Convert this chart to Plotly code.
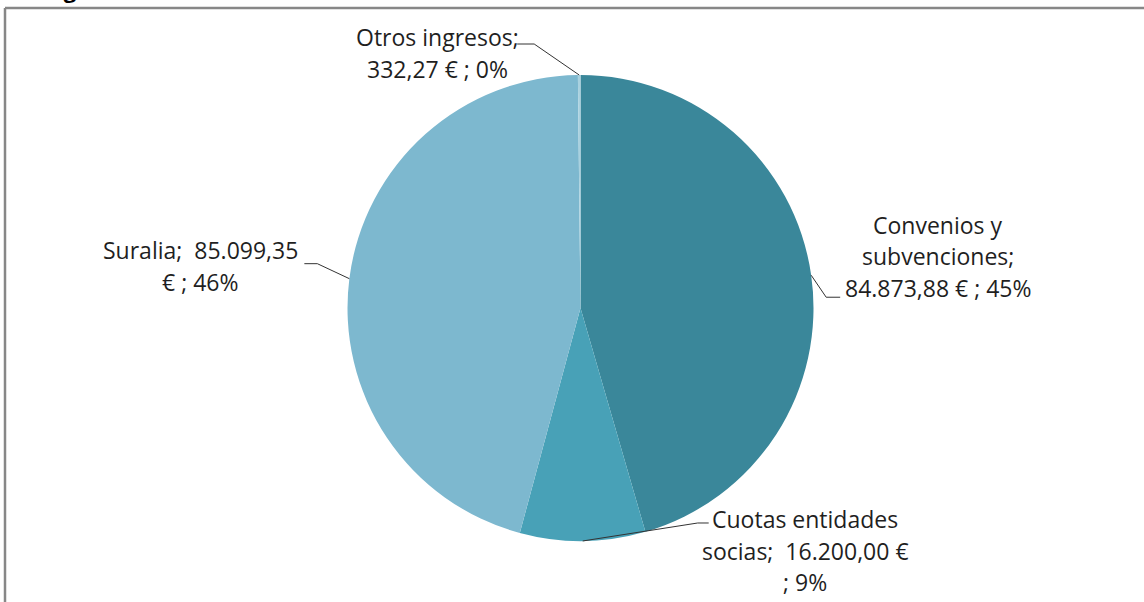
import math
import plotly.graph_objects as go

# ---- data ----
categories = ["Convenios y subvenciones", "Cuotas entidades socias", "Suralia", "Otros ingresos"]
values = [84873.88, 16200.00, 85099.35, 332.27]
label_lines = [
    ["Convenios y", "subvenciones;", "84.873,88 € ; 45%"],
    ["Cuotas entidades", "socias;  16.200,00 €", "; 9%"],
    ["Suralia;  85.099,35", "€ ; 46%"],
    ["Otros ingresos;", "332,27 € ; 0%"],
]
colors = ["#3A879A", "#48A1B7", "#7DB8CF", "#A9D1DF"]

# ---- layout / style ----
W, H = 1144, 602
CX, CY, R = 580.5, 308.0, 233.0
FONT = "Open Sans"
FS = 23
TXT = "#1f1f1f"
# label block centre (px) and line spacing
label_pos = [(938, 225), (805, 519), (200, 250), (437, 37)]
LS = 31.5
# leader line elbow and end offsets relative to slice edge point (px)
leader = [((15, 22), (29, 22)), ((115, -18), (126, -18)),
          ((-32, -15), (-45, -15)), ((-45, -31), (-62, -31))]


def px(x):
    return x / W


def py(y):
    return 1 - y / H


fig = go.Figure(go.Pie(
    labels=categories, values=values, sort=False, direction="clockwise",
    rotation=0, marker=dict(colors=colors, line=dict(width=0)),
    textinfo="none", hoverinfo="label+value+percent", showlegend=False,
    domain=dict(x=[px(CX - R), px(CX + R)], y=[py(CY + R), py(CY - R)]),
))

total = sum(values)
cum = 0.0
shapes = []
annotations = []
for i, v in enumerate(values):
    mid = (cum + v / 2) / total
    cum += v
    ang = 2 * math.pi * mid
    ex, ey = CX + R * math.sin(ang), CY - R * math.cos(ang)
    (dx1, dy1), (dx2, dy2) = leader[i]
    pts = [(ex, ey), (ex + dx1, ey + dy1), (ex + dx2, ey + dy2)]
    for (x0, y0), (x1, y1) in zip(pts[:-1], pts[1:]):
        shapes.append(dict(type="line", xref="paper", yref="paper",
                           x0=px(x0), y0=py(y0), x1=px(x1), y1=py(y1),
                           line=dict(color="#333333", width=1)))
    lx, ly = label_pos[i]
    for k, t in enumerate(label_lines[i]):
        annotations.append(dict(text=t, xref="paper", yref="paper",
                                x=px(lx), y=py(ly + k * LS), xanchor="center",
                                yanchor="middle", showarrow=False,
                                font=dict(family=FONT, size=FS, color=TXT)))

# frame (only top/left edges visible in the crop)
shapes.append(dict(type="line", xref="paper", yref="paper", x0=px(5), y0=py(8),
                   x1=px(W + 5), y1=py(8), line=dict(color="#878787", width=2.5)))
shapes.append(dict(type="line", xref="paper", yref="paper", x0=px(5), y0=py(8),
                   x1=px(5), y1=py(H + 5), line=dict(color="#878787", width=2.5)))

# cropped title (only the descender is visible)
annotations.append(dict(text="<b>Ingresos</b>", xref="paper", yref="paper",
                        x=px(40), y=py(6), xanchor="left", yanchor="bottom",
                        showarrow=False, font=dict(family=FONT, size=22, color="#000000")))

fig.update_layout(width=W, height=H, margin=dict(l=0, r=0, t=0, b=0),
                  paper_bgcolor="white", plot_bgcolor="white",
                  shapes=shapes, annotations=annotations)
fig.write_html("out.html", config={"displayModeBar": False},
               post_script="document.body.style.margin='0px';document.body.style.overflow='hidden';")
